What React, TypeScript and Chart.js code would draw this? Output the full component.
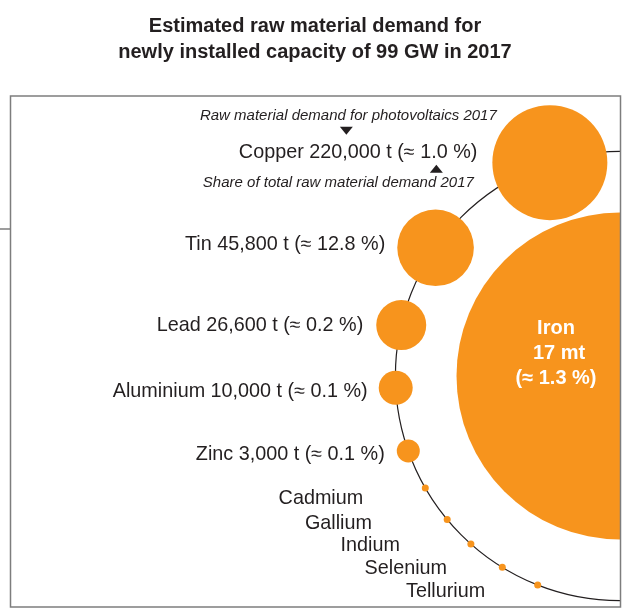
import React, { useEffect, useRef } from 'react';
import { Chart, registerables } from 'chart.js';

Chart.register(...registerables);

// ---------- data ----------
const titleLines = ['Estimated raw material demand for', 'newly installed capacity of 99 GW in 2017'];

const materials = ['Copper', 'Tin', 'Lead', 'Aluminium', 'Zinc'];
const demandTonnes = [220000, 45800, 26600, 10000, 3000];
const sharePercent = [1.0, 12.8, 0.2, 0.1, 0.1];

const ironName = 'Iron';
const ironDemandMt = 17;
const ironSharePercent = 1.3;

const minorMetals = ['Cadmium', 'Gallium', 'Indium', 'Selenium', 'Tellurium'];

const demandNote = 'Raw material demand for photovoltaics 2017';
const shareNote = 'Share of total raw material demand 2017';

// ---------- layout (positions / sizes, kept apart from the data) ----------
const ARC_R = 224.6;
const materialAngleDeg = [18.2, 55.2, 76.9, 93.0, 109.5];
const materialRadius = [57.5, 38.3, 25, 17, 11.5];
const materialLabelGap = [15, 12, 13, 11, 12];
const materialLabelDy = [-12, -5, -2, 2, 2];
const minorAngleDeg = [119.9, 129.7, 138.4, 148.4, 158.5];
const minorRadius = 3.5;
const minorLabelDx = [-146.7, -142.3, -130.3, -137.7, -131.6];
const minorLabelDy = [9, 1.7, -0.7, -0.4, 4.3];
const ironRadius = 163.5;
const TEXT_DY = 2; // 'middle' baseline sits a little above the cap centre

const ORANGE = 'rgb(247,148,29)';
const INK = '#231F20';
const FONT = '"Liberation Sans", Arial, sans-serif';

const onArc = (deg: number) => {
  const a = (deg * Math.PI) / 180;
  return { x: -ARC_R * Math.sin(a), y: -ARC_R * Math.cos(a) };
};

const fmtT = (v: number) => v.toLocaleString('en-US');

const decorPlugin = {
  id: 'decor',
  beforeDatasetsDraw(chart: any) {
    const { ctx, scales } = chart;
    const xs = scales.x;
    const ys = scales.y;
    const cx = xs.getPixelForValue(0);
    const cy = ys.getPixelForValue(0);
    const rp = cx - xs.getPixelForValue(-ARC_R);
    ctx.save();
    ctx.strokeStyle = INK;
    ctx.lineWidth = 1.2;
    ctx.beginPath();
    ctx.arc(cx, cy, rp, -Math.PI / 2, Math.PI / 2, true);
    ctx.stroke();
    ctx.restore();
  },
  afterDatasetsDraw(chart: any) {
    const { ctx, chartArea } = chart;
    ctx.save();

    // main materials labels
    const main = chart.getDatasetMeta(0).data;
    ctx.fillStyle = INK;
    ctx.font = `19.8px ${FONT}`;
    ctx.textAlign = 'right';
    ctx.textBaseline = 'middle';
    let copperRight = 0;
    let copperY = 0;
    main.forEach((el: any, i: number) => {
      const r = el.options.radius;
      const lx = el.x - r - materialLabelGap[i];
      const ly = el.y + materialLabelDy[i];
      const txt = `${materials[i]} ${fmtT(demandTonnes[i])} t (\u2248 ${sharePercent[i].toFixed(1)} %)`;
      ctx.fillText(txt, lx, ly + TEXT_DY);
      if (i === 0) {
        copperRight = lx;
        copperY = ly;
      }
    });

    // copper explanatory notes
    ctx.font = `italic 15px ${FONT}`;
    ctx.textAlign = 'center';
    ctx.fillText(demandNote, copperRight - 129, copperY - 37 + TEXT_DY);
    ctx.fillText(shareNote, copperRight - 139, copperY + 30 + TEXT_DY);
    const tri = (x: number, y: number, down: boolean) => {
      ctx.beginPath();
      if (down) {
        ctx.moveTo(x - 6.5, y - 4);
        ctx.lineTo(x + 6.5, y - 4);
        ctx.lineTo(x, y + 4);
      } else {
        ctx.moveTo(x - 6.5, y + 4);
        ctx.lineTo(x + 6.5, y + 4);
        ctx.lineTo(x, y - 4);
      }
      ctx.closePath();
      ctx.fill();
    };
    tri(copperRight - 131, copperY - 20, true);
    tri(copperRight - 41, copperY + 18, false);

    // iron label
    const iron = chart.getDatasetMeta(1).data[0];
    ctx.fillStyle = '#ffffff';
    ctx.font = `bold 20px ${FONT}`;
    ctx.textAlign = 'center';
    ctx.fillText(ironName, iron.x - 64, iron.y - 50 + TEXT_DY);
    ctx.fillText(`${ironDemandMt} mt`, iron.x - 61, iron.y - 25 + TEXT_DY);
    ctx.fillText(`(\u2248 ${ironSharePercent.toFixed(1)} %)`, iron.x - 64, iron.y + TEXT_DY);

    // minor metals labels
    const minor = chart.getDatasetMeta(2).data;
    ctx.fillStyle = INK;
    ctx.font = `19.8px ${FONT}`;
    ctx.textAlign = 'left';
    minor.forEach((el: any, i: number) => {
      ctx.fillText(minorMetals[i], el.x + minorLabelDx[i], el.y + minorLabelDy[i] + TEXT_DY);
    });

    // frame
    ctx.strokeStyle = '#7d7d7d';
    ctx.lineWidth = 1.5;
    ctx.strokeRect(chartArea.left + 0.5, chartArea.top, chartArea.right - chartArea.left, chartArea.bottom - chartArea.top);
    ctx.beginPath();
    ctx.moveTo(0, 229);
    ctx.lineTo(chartArea.left, 229);
    ctx.stroke();

    ctx.restore();
  },
};

export default function App() {
  const ref = useRef<HTMLCanvasElement | null>(null);

  useEffect(() => {
    if (!ref.current) return;
    const chart = new Chart(ref.current, {
      type: 'bubble',
      data: {
        datasets: [
          {
            label: 'Raw materials',
            data: materials.map((_, i) => ({ ...onArc(materialAngleDeg[i]), r: materialRadius[i] })),
            backgroundColor: ORANGE,
            borderWidth: 0,
            clip: 0,
          },
          {
            label: ironName,
            data: [{ x: 0, y: 0, r: ironRadius }],
            backgroundColor: ORANGE,
            borderWidth: 0,
            clip: 0,
          },
          {
            label: 'Minor metals',
            data: minorMetals.map((_, i) => ({ ...onArc(minorAngleDeg[i]), r: minorRadius })),
            backgroundColor: ORANGE,
            borderWidth: 0,
            clip: 0,
          },
        ],
      },
      options: {
        responsive: false,
        animation: false,
        events: [],
        layout: { autoPadding: false, padding: { left: 10, right: 4, top: 0, bottom: 3 } },
        scales: {
          x: { type: 'linear', min: -610, max: 0, display: false },
          y: { type: 'linear', min: -280, max: 231, reverse: true, display: false },
        },
        plugins: {
          legend: { display: false },
          tooltip: { enabled: false },
          title: {
            display: true,
            text: titleLines,
            color: INK,
            font: { family: FONT, size: 20, weight: 'bold', lineHeight: 1.3 },
            padding: { top: 13.5, bottom: 30.5 },
          },
        },
      },
      plugins: [decorPlugin],
    } as any);
    return () => chart.destroy();
  }, []);

  return (
    <canvas
      ref={ref}
      width={624}
      height={610}
      style={{ position: 'absolute', left: 0, top: 0, display: 'block', width: 624, height: 610 }}
    />
  );
}
